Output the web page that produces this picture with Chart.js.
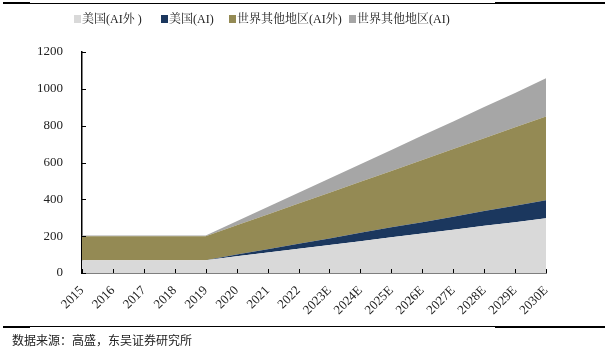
<!DOCTYPE html>
<html><head><meta charset="utf-8">
<script src="https://cdn.jsdelivr.net/npm/chart.js@4"></script>
<style>
html,body{margin:0;padding:0;background:#fff;}
#wrap{position:relative;width:605px;height:351px;overflow:hidden;}
canvas{position:absolute;left:0;top:0;}
.ln{position:absolute;background:#000;}
#legend{position:absolute;left:0;top:11px;width:605px;height:16px;font-family:'Liberation Serif','Noto Serif CJK SC','Noto Sans CJK SC',serif;font-size:12px;color:#222;white-space:nowrap;}
#legend .bx{position:absolute;top:4px;width:7px;height:8px;}
#legend .tx{position:absolute;top:0;line-height:16px;}
#src{position:absolute;left:12px;top:331px;font-family:'Noto Sans CJK SC',sans-serif;font-size:12px;color:#222;}
</style></head>
<body><div id="wrap">
<canvas id="c" width="605" height="351"></canvas>
<div class="ln" style="left:3px;top:2px;width:27px;height:2px"></div>
<div class="ln" style="left:29px;top:3px;width:466px;height:1px"></div>
<div class="ln" style="left:495px;top:2px;width:110px;height:2px"></div>
<div class="ln" style="left:3px;top:326px;width:27px;height:2px"></div>
<div class="ln" style="left:29px;top:326px;width:466px;height:1px"></div>
<div class="ln" style="left:495px;top:326px;width:110px;height:2px"></div>
<div id="legend"></div>
<div id="src">数据来源：高盛，东吴证券研究所</div>
</div>
<script>
const categories = ['2015','2016','2017','2018','2019','2020','2021','2022','2023E','2024E','2025E','2026E','2027E','2028E','2029E','2030E'];
const usNonAI  = [69,69,69,69,69,91,111,132,152,173,194,214,235,256,276,297];
const usAI     = [0,0,0,0,0,9,18,27,36,45,54,62,71,80,89,98];
const rowNonAI = [131,131,131,131,131,159,189,218,248,277,306,338,367,396,426,455];
const rowAI    = [3,3,3,3,3,22,40,59,77,96,114,132,150,169,187,207];
const yTicks = [0,200,400,600,800,1000,1200];
const seriesNames = ['美国(AI外 )','美国(AI)','世界其他地区(AI外)','世界其他地区(AI)'];
const colors = ['#d9d9d9','#1b375e','#948a54','#a6a6a6'];
const legendBoxX = [74,161,229,349];

const lg = document.getElementById('legend');
seriesNames.forEach((n,i)=>{
  const b=document.createElement('span');b.className='bx';b.style.left=legendBoxX[i]+'px';b.style.background=colors[i];lg.appendChild(b);
  const t=document.createElement('span');t.className='tx';t.style.left=(legendBoxX[i]+8)+'px';t.textContent=n;lg.appendChild(t);
});

const serif = "'Liberation Serif','Times New Roman',serif";
const tickPlugin = {
  id:'inticks',
  afterDraw(chart){
    const x=chart.scales.x, y=chart.scales.y, ctx=chart.ctx, a=chart.chartArea;
    ctx.save();ctx.strokeStyle='#000';ctx.lineWidth=1;
    for(let i=0;i<x.ticks.length;i++){
      const px=Math.round(x.getPixelForTick(i))+0.5;
      ctx.beginPath();ctx.moveTo(px,a.bottom);ctx.lineTo(px,a.bottom-4);ctx.stroke();
    }
    for(let i=0;i<y.ticks.length;i++){
      const py=Math.round(y.getPixelForTick(i))+0.5;
      ctx.beginPath();ctx.moveTo(a.left,py);ctx.lineTo(a.left+4,py);ctx.stroke();
    }
    ctx.restore();
  }
};
const data=[usNonAI,usAI,rowNonAI,rowAI];
new Chart(document.getElementById('c'),{
  type:'line',
  data:{labels:categories,datasets:data.map((d,i)=>({
    label:seriesNames[i],data:d,backgroundColor:colors[i],borderWidth:0,pointRadius:0,
    fill:i===0?'origin':'-1',tension:0
  }))},
  options:{
    responsive:false,animation:false,
    layout:{padding:{top:52,right:59,left:0,bottom:0}},
    plugins:{legend:{display:false},tooltip:{enabled:false}},
    scales:{
      x:{offset:false,
        grid:{display:false},
        border:{display:true,color:'#000',width:1.5},
        ticks:{font:{family:serif,size:13},color:'#222',maxRotation:45,minRotation:45,autoSkip:false,padding:2},
        afterFit(s){s.height=78;}
      },
      y:{stacked:true,min:0,max:1200,
        afterBuildTicks(s){s.ticks=yTicks.map(v=>({value:v}));},
        grid:{display:false},
        border:{display:true,color:'#000',width:1.5},
        ticks:{font:{family:serif,size:13},color:'#222',padding:11,callback:v=>String(v)},
        afterFit(s){s.width=82;}
      }
    }
  },
  plugins:[tickPlugin]
});
</script>
</body></html>
